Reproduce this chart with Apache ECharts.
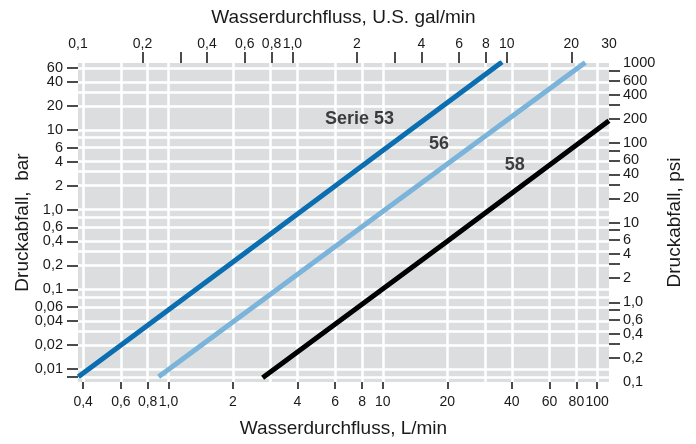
<!DOCTYPE html>
<html><head><meta charset="utf-8">
<script src="https://cdn.jsdelivr.net/npm/echarts@6/dist/echarts.min.js"></script>
<style>html,body{margin:0;padding:0;background:#fff}#c{width:696px;height:444px}</style>
</head><body><div id="c"></div>
<script>
// unit conversions
const GAL_TO_L = 3.78541;
const PSI_TO_BAR = 0.0689476;
// axis ranges (top gal/min, right psi)
const galRange = [0.1, 30];
const psiRange = [0.1, 1000];

// tick / label values
const flowLTicks = [0.4, 0.6, 0.8, 1, 2, 4, 6, 8, 10, 20, 40, 60, 80, 100];
const flowGalTicks = [0.2, 0.3, 0.4, 0.6, 0.8, 1, 2, 3, 4, 6, 8, 10, 20];
const flowGalLabels = [0.1, 0.2, 0.4, 0.6, 0.8, 1, 2, 4, 6, 8, 10, 20, 30];
const barTicks = [0.008, 0.01, 0.02, 0.04, 0.06, 0.1, 0.2, 0.4, 0.6, 1, 2, 4, 6, 10, 20, 40, 60];
const barLabels = [0.01, 0.02, 0.04, 0.06, 0.1, 0.2, 0.4, 0.6, 1, 2, 4, 6, 10, 20, 40, 60];
const psiTicks = [0.2, 0.3, 0.4, 0.6, 0.8, 1, 2, 3, 4, 6, 8, 10, 20, 30, 40, 60, 80, 100, 200, 300, 400, 600, 800];
const psiLabels = [0.1, 0.2, 0.4, 0.6, 1, 2, 4, 6, 10, 20, 40, 60, 100, 200, 400, 600, 1000];
// grid lines
const gridFlowL = [0.4, 0.6, 0.8, 1, 2, 3, 4, 6, 8, 10, 20, 30, 40, 60, 80, 100];
const gridBar = [0.008, 0.01, 0.02, 0.03, 0.04, 0.06, 0.08, 0.1, 0.2, 0.3, 0.4, 0.6, 0.8, 1, 2, 3, 4, 6, 8, 10, 20, 30, 40, 60];

// series: [flow L/min, pressure drop bar]
const serie53 = [[0.38, 0.0080], [2, 0.22], [10, 5.5], [36, 71]];
const serie56 = [[0.9, 0.0080], [8, 0.61], [88, 70]];
const serie58 = [[2.75, 0.0078], [20, 0.40], [113.5, 13]];

// series name labels: [text, flow L/min, bar]
const seriesLabels = [['Serie 53', 7.78, 13.7], ['56', 18.3, 6.68], ['58', 41.3, 3.6]];

const FONT = "'Liberation Sans', Arial, Helvetica, sans-serif";
const lg = v => Math.log10(v);
const logs = arr => arr.map(lg);
const pt = p => [lg(p[0]), lg(p[1])];
function fmt(v) {
  const n = Number(Math.pow(10, v).toPrecision(6));
  if (n === 1) return '1,0';
  return String(n).replace('.', ',');
}
const xMinL = lg(galRange[0] * GAL_TO_L), xMaxL = lg(galRange[1] * GAL_TO_L);
const yMinB = lg(psiRange[0] * PSI_TO_BAR), yMaxB = lg(psiRange[1] * PSI_TO_BAR);
const tickStyle = {color: '#111', width: 1.5};
const xLabelStyle = {fontSize: 14, color: '#1a1a1a', fontFamily: FONT, hideOverlap: false, showMinLabel: true, showMaxLabel: true};
const yLabelStyle = {fontSize: 14.5, color: '#1a1a1a', fontFamily: FONT, hideOverlap: false, showMinLabel: true, showMaxLabel: true};
const nameStyle = {fontSize: 19, color: '#1a1a1a', fontFamily: FONT};
const noLine = {show: false, onZero: false};
// the crowded top bar label goes on its own label-only axis so it is not dropped
const barLabelsMain = barLabels.slice(0, -1);
const barLabelsTop = barLabels.slice(-1);

const chart = echarts.init(document.getElementById('c'), null, {renderer: 'canvas'});
chart.setOption({
  animation: false,
  backgroundColor: '#fff',
  grid: {left: 78, right: 87, top: 63, bottom: 62, show: true, backgroundColor: '#dcdddf', borderWidth: 0, containLabel: false, outerBoundsMode: 'none'},
  xAxis: [
    {type: 'value', position: 'bottom', min: xMinL, max: xMaxL,
     name: 'Wasserdurchfluss, L/min', nameLocation: 'middle', nameGap: 37, nameTextStyle: nameStyle, nameMoveOverlap: false,
     axisLine: noLine,
     axisTick: {show: true, length: 7, customValues: logs(flowLTicks), lineStyle: tickStyle},
     axisLabel: Object.assign({customValues: logs(flowLTicks), formatter: fmt, margin: 13}, xLabelStyle),
     splitLine: {show: false}},
    {type: 'value', position: 'top', min: lg(galRange[0]), max: lg(galRange[1]),
     name: 'Wasserdurchfluss, U.S. gal/min', nameLocation: 'middle', nameGap: 36, nameTextStyle: nameStyle, nameMoveOverlap: false,
     axisLine: noLine,
     axisTick: {show: true, length: 11, customValues: logs(flowGalTicks), lineStyle: tickStyle},
     axisLabel: Object.assign({customValues: logs(flowGalLabels), formatter: fmt, margin: 12}, xLabelStyle),
     splitLine: {show: false}},
    {type: 'value', position: 'bottom', min: xMinL, max: xMaxL,
     axisLine: noLine, axisTick: {show: false, customValues: logs(gridFlowL)},
     axisLabel: {show: false, customValues: logs(gridFlowL)},
     splitLine: {show: true, lineStyle: {color: '#ffffff', width: 2.5}}}
  ],
  yAxis: [
    {type: 'value', position: 'left', min: yMinB, max: yMaxB,
     name: 'Druckabfall,  bar', nameLocation: 'middle', nameGap: 46, nameTextStyle: nameStyle, nameMoveOverlap: false,
     axisLine: noLine,
     axisTick: {show: true, length: 11, customValues: logs(barTicks), lineStyle: tickStyle},
     axisLabel: Object.assign({customValues: logs(barLabelsMain), formatter: fmt, margin: 15}, yLabelStyle),
     splitLine: {show: false}},
    {type: 'value', position: 'right', min: lg(psiRange[0]), max: lg(psiRange[1]),
     name: 'Druckabfall, psi', nameLocation: 'middle', nameGap: 56, nameTextStyle: nameStyle, nameMoveOverlap: false,
     axisLine: noLine,
     axisTick: {show: true, length: 11, customValues: logs(psiTicks), lineStyle: tickStyle},
     axisLabel: Object.assign({customValues: logs(psiLabels), formatter: fmt, margin: 14}, yLabelStyle),
     splitLine: {show: false}},
    {type: 'value', position: 'left', min: yMinB, max: yMaxB,
     axisLine: noLine, axisTick: {show: false, customValues: logs(gridBar)},
     axisLabel: {show: false, customValues: logs(gridBar)},
     splitLine: {show: true, lineStyle: {color: '#ffffff', width: 2.5}}},
    {type: 'value', position: 'left', offset: 0, min: yMinB, max: yMaxB,
     axisLine: noLine, axisTick: {show: false, customValues: logs(barLabelsTop)},
     axisLabel: Object.assign({customValues: logs(barLabelsTop), formatter: fmt, margin: 15}, yLabelStyle),
     splitLine: {show: false}}
  ],
  series: [
    {type: 'line', name: 'Serie 53', xAxisIndex: 0, yAxisIndex: 0, data: serie53.map(pt), showSymbol: false, clip: true,
     lineStyle: {color: '#0a6eb0', width: 5}},
    {type: 'line', name: '56', xAxisIndex: 0, yAxisIndex: 0, data: serie56.map(pt), showSymbol: false, clip: true,
     lineStyle: {color: '#7ab4da', width: 5}},
    {type: 'line', name: '58', xAxisIndex: 0, yAxisIndex: 0, data: serie58.map(pt), showSymbol: false, clip: true,
     lineStyle: {color: '#000000', width: 5}},
    {type: 'scatter', xAxisIndex: 0, yAxisIndex: 0, symbolSize: 0, silent: true,
     data: seriesLabels.map(l => ({value: [lg(l[1]), lg(l[2])], name: l[0]})),
     label: {show: true, position: 'inside', formatter: p => p.name, fontSize: 18, fontWeight: 'bold', color: '#111', fontFamily: FONT}}
  ]
});
</script>
</body></html>
